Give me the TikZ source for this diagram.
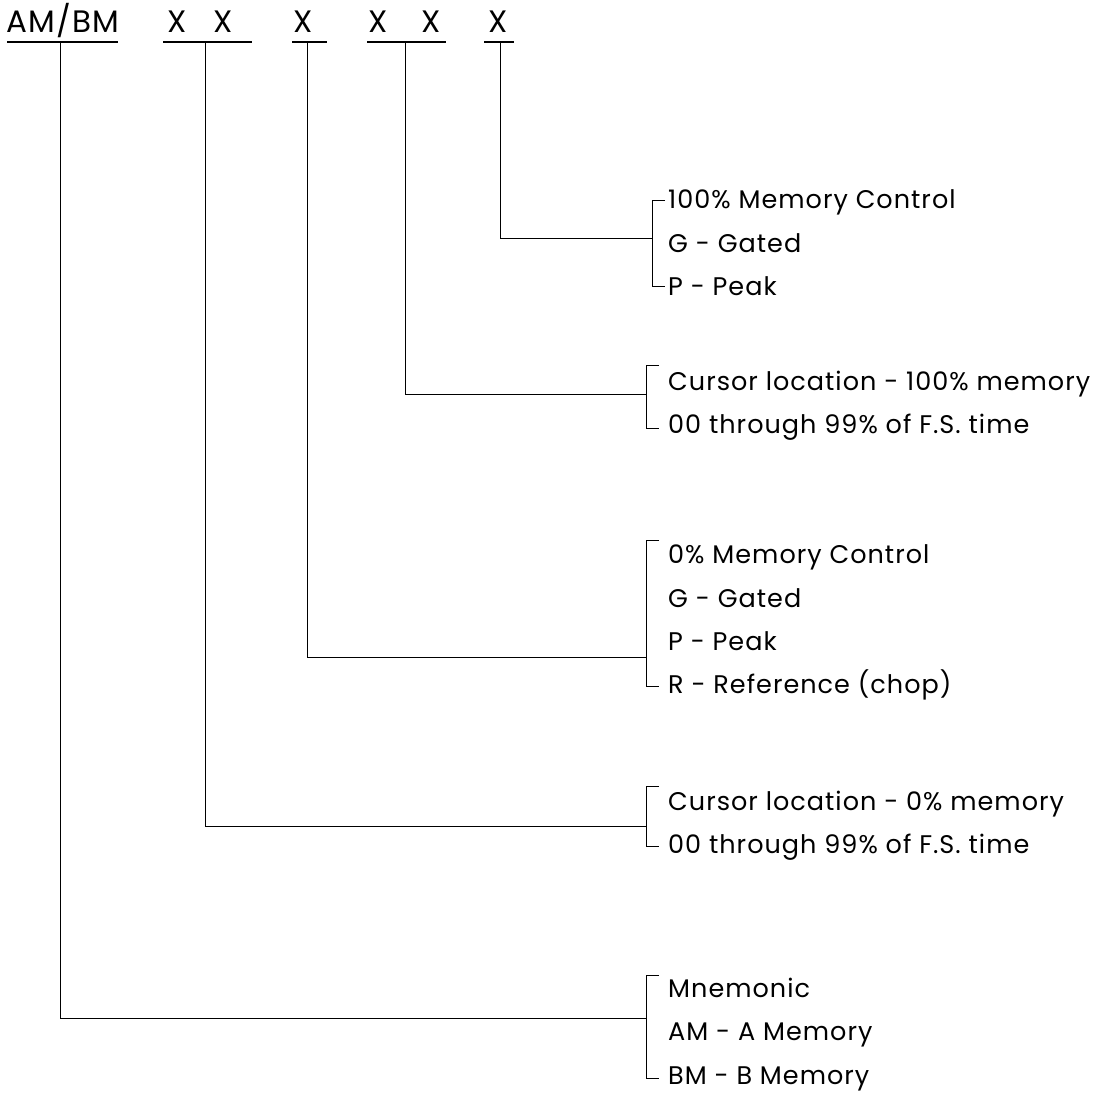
\documentclass[tikz,border=0pt]{standalone}
\usepackage{fontspec}
\setmainfont{Poppins}[LetterSpace=4]
\begin{document}
\begin{tikzpicture}[x=1pt,y=-1pt,
  line/.style={line width=1pt},
  uline/.style={line width=2.2pt},
  hdr/.style={anchor=base west, inner sep=0pt, font=\fontsize{31}{33}\selectfont},
  lbl/.style={anchor=base west, inner sep=0pt, font=\fontsize{25.5}{27}\selectfont},
  ]
\useasboundingbox (0,0) rectangle (1114,1120);
% header
\node[hdr] (h0) at (6,32) {AM/BM};
\node[hdr] (h1a) at (167,32) {X};
\node[hdr] (h1b) at (213,32) {X};
\node[hdr] (h2) at (293,32) {X};
\node[hdr] (h3a) at (368,32) {X};
\node[hdr] (h3b) at (421,32) {X};
\node[hdr] (h4) at (488,32) {X};
% underlines
\coordinate (u0l) at (7,42);   \coordinate (u0r) at (118,42);
\coordinate (u1l) at (163,42); \coordinate (u1r) at (252,42);
\coordinate (u2l) at (292,42); \coordinate (u2r) at (327,42);
\coordinate (u3l) at (367,42); \coordinate (u3r) at (446,42);
\coordinate (u4l) at (484,42); \coordinate (u4r) at (514,42);
\foreach \i in {0,...,4} {\draw[uline] (u\i l) -- (u\i r);}
\coordinate (d0) at (60,42);
\coordinate (d1) at (205,42);
\coordinate (d2) at (307,42);
\coordinate (d3) at (405,42);
\coordinate (d4) at (500,42);
% labels
\node[lbl] (a1) at (668,208) {100\% Memory Control};
\node[lbl] (a2) at (668,252) {G - Gated};
\node[lbl] (a3) at (668,295) {P - Peak};
\node[lbl] (b1) at (668,390) {Cursor location - 100\% memory};
\node[lbl] (b2) at (668,433) {00 through 99\% of F.S. time};
\node[lbl] (c1) at (668,563) {0\% Memory Control};
\node[lbl] (c2) at (668,607) {G - Gated};
\node[lbl] (c3) at (668,650) {P - Peak};
\node[lbl] (c4) at (668,693) {R - Reference (chop)};
\node[lbl] (e1) at (668,810) {Cursor location - 0\% memory};
\node[lbl] (e2) at (668,853) {00 through 99\% of F.S. time};
\node[lbl] (f1) at (668,997) {Mnemonic};
\node[lbl] (f2) at (668,1040) {AM - A Memory};
\node[lbl] (f3) at (668,1084) {BM - B Memory};
% brackets
\newcommand{\brk}[3]{\draw[line] (#1+13,#2) -- (#1,#2) -- (#1,#3) -- (#1+13,#3);}
\brk{652}{200}{286}
\brk{646}{365}{428}
\brk{646}{540}{686}
\brk{646}{786}{846}
\brk{646}{975}{1078}
\coordinate (k4) at (652,238);
\coordinate (k3) at (646,394);
\coordinate (k2) at (646,657);
\coordinate (k1) at (646,826);
\coordinate (k0) at (646,1018);
% connectors
\foreach \i in {0,...,4} {\draw[line] (d\i) |- (k\i);}
\end{tikzpicture}
\end{document}
